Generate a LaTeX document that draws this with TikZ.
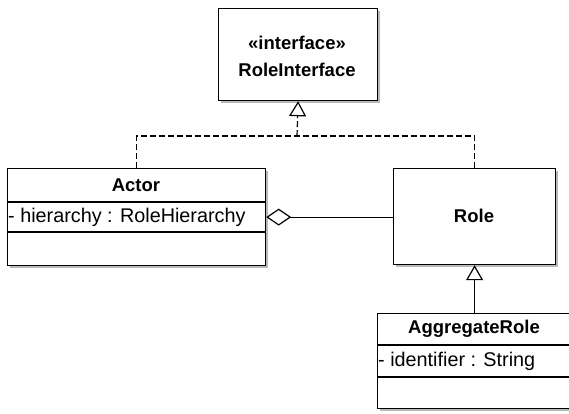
\documentclass[tikz,border=0pt]{standalone}
\usepackage{fontspec}
\setmainfont{Liberation Sans}
\usetikzlibrary{arrows.meta}
\definecolor{shadowgray}{RGB}{185,185,185}
\begin{document}
\begin{tikzpicture}[x=1pt,y=-1pt,
  box/.style={draw=black,fill=white,line width=1.2pt,inner sep=0pt,anchor=north west},
  shade/.style={fill=shadowgray,draw=none},
  title/.style={font=\fontsize{18.5}{20}\selectfont\bfseries,inner sep=0pt},
  attr/.style={font=\fontsize{19.8}{22}\selectfont,inner sep=0pt,anchor=west},
  conn/.style={line width=1.2pt},
  realizeline/.style={line width=1.2pt,dash pattern=on 6pt off 3pt},
  gen/.style={-{Triangle[open,fill=white,width=17pt,length=15pt,line width=1.2pt]}},
  agg/.style={{Diamond[open,fill=white,width=17pt,length=25pt,line width=1.2pt]}-}
]
\useasboundingbox (0,0) rectangle (569,413);
\clip (0,0) rectangle (569,413);
\fill[white] (0,0) rectangle (569,413);
% shadows
\fill[shade] (221,11) rectangle (380,103);
\fill[shade] (10,171) rectangle (268,268);
\fill[shade] (396,171) rectangle (558,267);
\fill[shade] (380,316) rectangle (574,411);
% boxes
\node[box,minimum width=159pt,minimum height=92pt] (ri) at (218,8) {};
\node[box,minimum width=258pt,minimum height=97pt] (actor) at (7,168) {};
\node[box,minimum width=162pt,minimum height=96pt] (role) at (393,168) {};
\node[box,minimum width=194pt,minimum height=95pt] (aggr) at (377,313) {};
% compartments
\draw[conn] (7,202) -- (265,202);
\draw[conn] (7,232) -- (265,232);
\draw[conn] (377,345) -- (571,345);
\draw[conn] (377,377) -- (571,377);
% texts
\node[title] (st) at (297,43) {«interface»};
\node[title] (rin) at (297,70) {RoleInterface};
\node[title] (an) at (136,185) {Actor};
\node[attr] (aa) at (8,217) {- hierarchy : RoleHierarchy};
\node[title] (rn) at (474,216) {Role};
\node[title] (gn) at (474,329) {AggregateRole};
\node[attr] (ga) at (378,361) {- identifier : String};
% connectors
\coordinate (j) at (297,136);
\draw[realizeline] (actor.north) |- (j) -| (role.north);
\draw[realizeline,gen] (j) -- (ri.south);
\draw[conn,agg] (actor.east) -- (actor.east -| role.west);
\draw[conn,gen] (aggr.north) -- (role.south);
\end{tikzpicture}
\end{document}
